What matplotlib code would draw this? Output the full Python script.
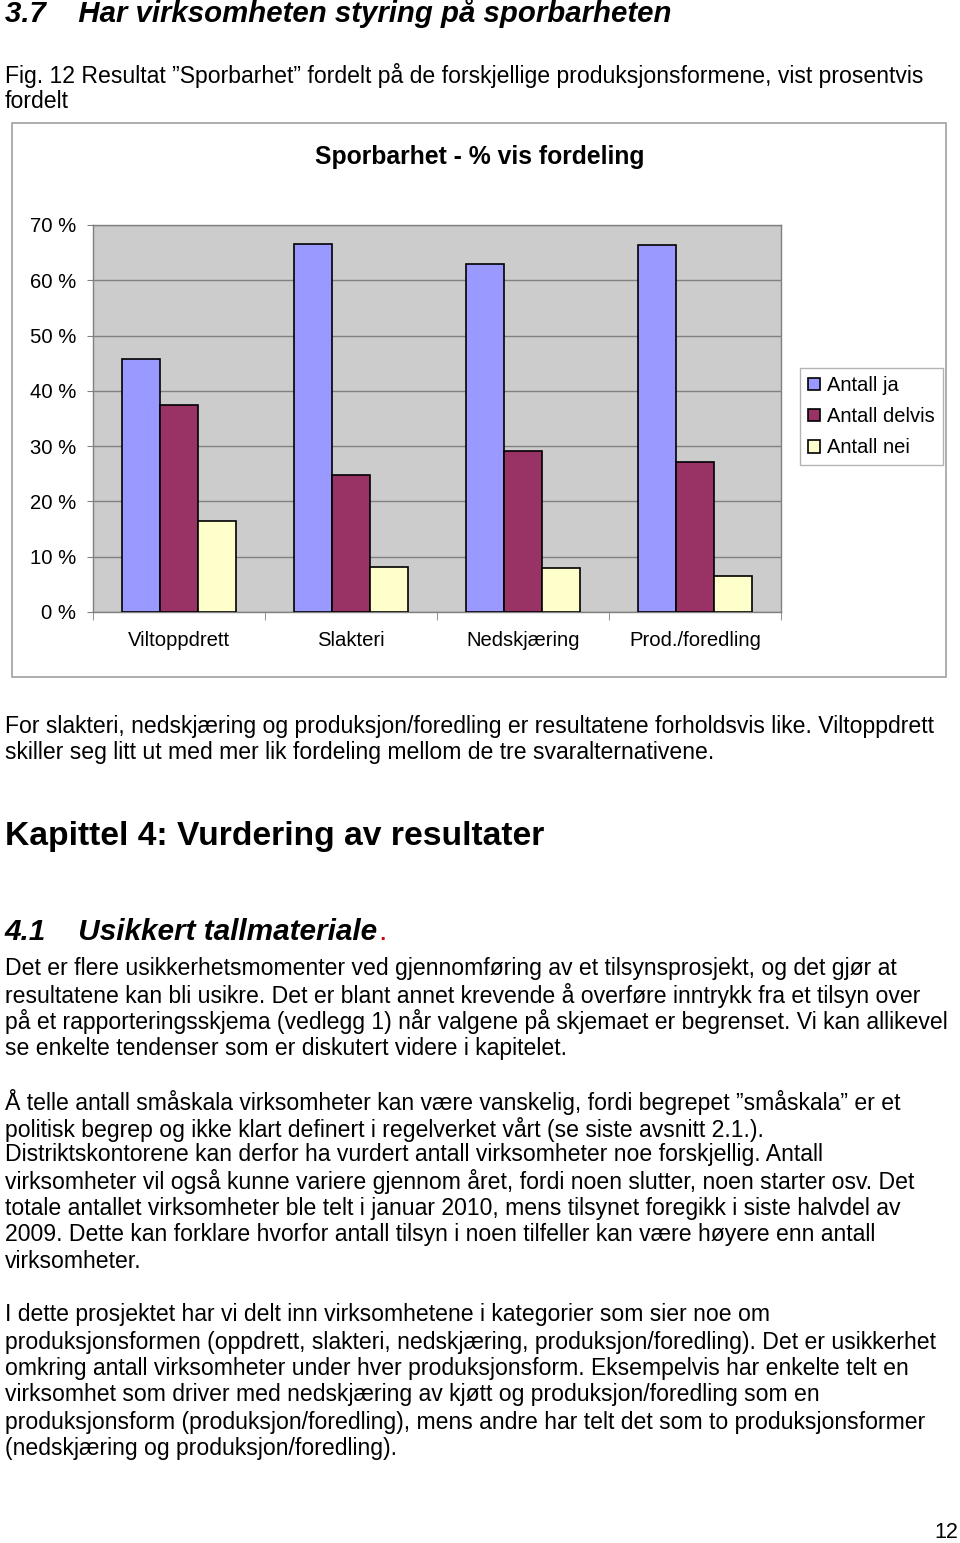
import matplotlib
matplotlib.use("Agg")
import matplotlib.pyplot as plt
import matplotlib.patches as mpatches
import numpy as np

plt.rcParams['font.family'] = ['Liberation Sans', 'DejaVu Sans']

categories = ["Viltoppdrett", "Slakteri", "Nedskjæring", "Prod./foredling"]
series_names = ["Antall ja", "Antall delvis", "Antall nei"]
antall_ja = [45.7, 66.5, 62.9, 66.4]
antall_delvis = [37.4, 24.8, 29.1, 27.1]
antall_nei = [16.5, 8.2, 8.0, 6.5]
series_colors = ["#9999FF", "#993366", "#FFFFCC"]
yticks = [0, 10, 20, 30, 40, 50, 60, 70]
ytick_labels = ["0 %", "10 %", "20 %", "30 %", "40 %", "50 %", "60 %", "70 %"]

W, H = 960, 1543
fig = plt.figure(figsize=(W / 100, H / 100), dpi=100)

def fy(y):
    return 1 - y / H

def fx(x):
    return x / W

# outer chart frame
fig.patches.append(mpatches.Rectangle((fx(12), fy(677)), fx(946) - fx(12), fy(123) - fy(677),
                                      transform=fig.transFigure, fill=False,
                                      edgecolor="#A0A0A0", linewidth=1.2))

ax = fig.add_axes([fx(93), fy(612), fx(781) - fx(93), fy(225) - fy(612)])
ax.set_facecolor("#CCCCCC")
x = np.arange(len(categories))
w = 0.222
for i, (vals, name, col) in enumerate(zip([antall_ja, antall_delvis, antall_nei], series_names, series_colors)):
    ax.bar(x + (i - 1) * w, vals, width=w, color=col, edgecolor="black", linewidth=1.2,
           label=name, zorder=3)
ax.set_xlim(-0.5, 3.5)
ax.set_ylim(0, 70)
ax.set_yticks(yticks)
ax.set_yticklabels(ytick_labels, fontsize=14.6)
ax.yaxis.grid(True, color="#808080", linewidth=1.0, zorder=1)
ax.set_axisbelow(True)
ax.tick_params(axis='y', length=4, color="#808080", pad=8)
ax.set_xticks(x)
ax.set_xticklabels(categories, fontsize=14.6)
ax.tick_params(axis='x', which='major', length=0, pad=14)
ax.set_xticks(np.arange(-0.5, 4.0, 1.0), minor=True)
ax.tick_params(axis='x', which='minor', length=6, color="#808080")
for s in ax.spines.values():
    s.set_color("#808080")
    s.set_linewidth(1.0)

leg = fig.legend(loc="upper left", bbox_to_anchor=(fx(800), fy(368)), fontsize=14.5,
                 frameon=True, fancybox=False, edgecolor="#A0A0A0", handlelength=0.6,
                 handleheight=0.6, handletextpad=0.35, labelspacing=0.6, borderpad=0.4,
                 borderaxespad=0)
leg.get_frame().set_linewidth(1.0)

fig.text(fx(480), fy(157), "Sporbarhet - % vis fordeling", ha="center", va="center",
         fontsize=17.8, fontweight="bold")

# page text
fig.text(fx(5), fy(13), "3.7    Har virksomheten styring på sporbarheten", ha="left", va="center",
         fontsize=21.2, fontweight="bold", style="italic")
fig.text(fx(5), fy(76), "Fig. 12 Resultat ”Sporbarhet” fordelt på de forskjellige produksjonsformene, vist prosentvis",
         ha="left", va="center", fontsize=16.6)
fig.text(fx(5), fy(102), "fordelt", ha="left", va="center", fontsize=16.6)

body_size = 16.6
para1 = [
    (726, "For slakteri, nedskjæring og produksjon/foredling er resultatene forholdsvis like. Viltoppdrett"),
    (753, "skiller seg litt ut med mer lik fordeling mellom de tre svaralternativene."),
]
for y, t in para1:
    fig.text(fx(5), fy(y), t, ha="left", va="center", fontsize=body_size)

fig.text(fx(5), fy(837), "Kapittel 4: Vurdering av resultater", ha="left", va="center",
         fontsize=24.2, fontweight="bold")

t41 = fig.text(fx(5), fy(932), "4.1    Usikkert tallmateriale", ha="left", va="center",
               fontsize=21.4, fontweight="bold", style="italic")
fig.canvas.draw()
bb = t41.get_window_extent()
fig.text(bb.x1 / W, fy(932), ".", ha="left", va="center", fontsize=21.4, color="#CC0000")

body = [
    (968, "Det er flere usikkerhetsmomenter ved gjennomføring av et tilsynsprosjekt, og det gjør at"),
    (995, "resultatene kan bli usikre. Det er blant annet krevende å overføre inntrykk fra et tilsyn over"),
    (1022, "på et rapporteringsskjema (vedlegg 1) når valgene på skjemaet er begrenset. Vi kan allikevel"),
    (1048, "se enkelte tendenser som er diskutert videre i kapitelet."),
    (1102, "Å telle antall småskala virksomheter kan være vanskelig, fordi begrepet ”småskala” er et"),
    (1129, "politisk begrep og ikke klart definert i regelverket vårt (se siste avsnitt 2.1.)."),
    (1155, "Distriktskontorene kan derfor ha vurdert antall virksomheter noe forskjellig. Antall"),
    (1182, "virksomheter vil også kunne variere gjennom året, fordi noen slutter, noen starter osv. Det"),
    (1208, "totale antallet virksomheter ble telt i januar 2010, mens tilsynet foregikk i siste halvdel av"),
    (1235, "2009. Dette kan forklare hvorfor antall tilsyn i noen tilfeller kan være høyere enn antall"),
    (1262, "virksomheter."),
    (1315, "I dette prosjektet har vi delt inn virksomhetene i kategorier som sier noe om"),
    (1342, "produksjonsformen (oppdrett, slakteri, nedskjæring, produksjon/foredling). Det er usikkerhet"),
    (1368, "omkring antall virksomheter under hver produksjonsform. Eksempelvis har enkelte telt en"),
    (1395, "virksomhet som driver med nedskjæring av kjøtt og produksjon/foredling som en"),
    (1422, "produksjonsform (produksjon/foredling), mens andre har telt det som to produksjonsformer"),
    (1448, "(nedskjæring og produksjon/foredling)."),
]
for y, t in body:
    fig.text(fx(5), fy(y), t, ha="left", va="center", fontsize=body_size)

fig.text(fx(958), fy(1533), "12", ha="right", va="center", fontsize=15.5)

fig.savefig("out.png", dpi=100, facecolor="white")
